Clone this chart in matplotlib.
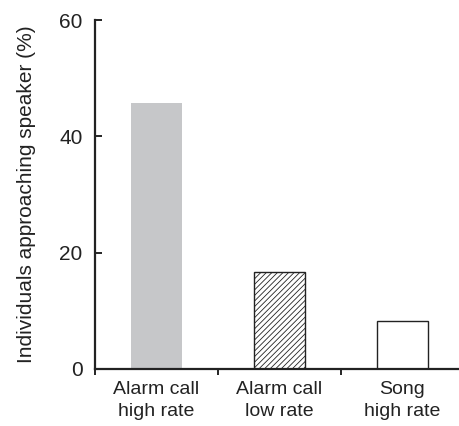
import matplotlib
matplotlib.use("Agg")
import matplotlib.pyplot as plt

plt.rcParams["font.family"] = ["Liberation Sans", "DejaVu Sans"]
plt.rcParams["hatch.linewidth"] = 0.6

CATEGORIES = ["Alarm call\nhigh rate", "Alarm call\nlow rate", "Song\nhigh rate"]
VALUES = [45.8, 16.7, 8.3]
Y_TICKS = [0, 20, 40, 60]

fig = plt.figure(figsize=(4.59, 4.26), dpi=100)
ax = fig.add_axes([0.207, 0.134, 0.793, 0.819])

centers = [i + 0.5 for i in range(len(VALUES))]
styles = [
    dict(color="#c6c7c9", edgecolor="none"),
    dict(color="white", edgecolor="#222222", hatch="//////", linewidth=1.0),
    dict(color="white", edgecolor="#222222", linewidth=1.0),
]
for x, v, st in zip(centers, VALUES, styles):
    ax.bar(x, v, width=0.41, **st)

ax.set_xlim(0, 2.96)
ax.set_ylim(0, 60)

ax.set_yticks(Y_TICKS)
ax.tick_params(axis="y", direction="in", length=5, width=1.2, labelsize=15, pad=9,
               labelcolor="#222222")
ax.set_xticks([0, 1, 2])
ax.set_xticklabels([])
ax.tick_params(axis="x", which="major", direction="out", length=4, width=1.2)
ax.set_xticks(centers, minor=True)
ax.set_xticklabels(CATEGORIES, minor=True, fontsize=14, linespacing=1.35,
                   color="#222222")
ax.tick_params(axis="x", which="minor", length=0, pad=9)

ax.set_ylabel("Individuals approaching speaker (%)", fontsize=15, labelpad=17,
              color="#222222")

for s in ["top", "right"]:
    ax.spines[s].set_visible(False)
for s in ["left", "bottom"]:
    ax.spines[s].set_linewidth(1.6)
    ax.spines[s].set_color("#222222")

fig.savefig("out.png", dpi=100)
